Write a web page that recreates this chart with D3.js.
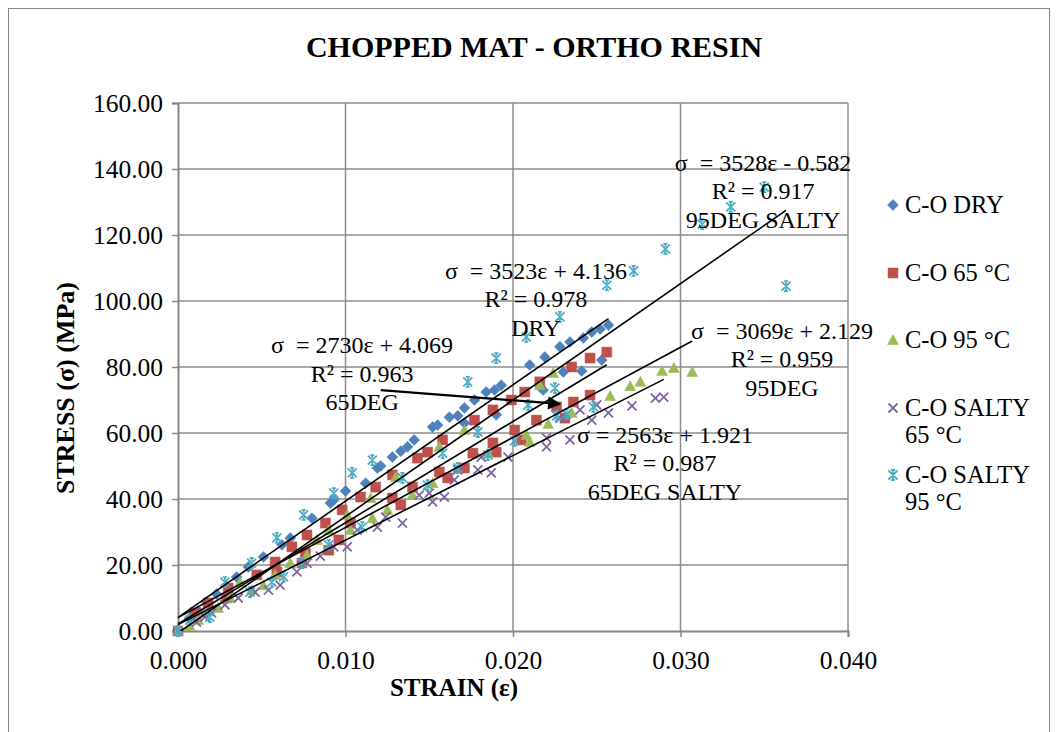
<!DOCTYPE html>
<html>
<head>
<meta charset="utf-8">
<script src="https://cdn.jsdelivr.net/npm/d3@7"></script>
<style>
  body { margin: 0; background: #fff; }
  text { font-family: "Liberation Serif", "Times New Roman", serif; fill: #000; }
</style>
</head>
<body>
<div id="chart"></div>
<script>
// strain / stress readings, one pair of arrays per specimen group
var dryStrain = [0, 0.0007, 0.0012, 0.0017, 0.0023, 0.0029, 0.0035, 0.0042, 0.0051, 0.0062, 0.0067, 0.0080, 0.0091, 0.0093, 0.0100, 0.0112, 0.0119, 0.0121, 0.0128, 0.0133, 0.0137, 0.0141, 0.0152, 0.0155, 0.0162, 0.0167, 0.0171, 0.0177, 0.0184, 0.0189, 0.0193, 0.0210, 0.0219, 0.0228, 0.0234, 0.0242, 0.0247, 0.0252, 0.0257, 0.0171, 0.0190, 0.0218, 0.0230, 0.0241, 0.0253];
var dryStress = [0, 3.9, 6.1, 8.8, 11.2, 13.6, 16.4, 19.4, 22.4, 26.1, 28.2, 34.2, 38.8, 39.7, 42.4, 44.8, 49.4, 50.0, 52.7, 54.5, 55.8, 57.9, 61.8, 62.4, 64.8, 65.2, 67.6, 70.0, 72.4, 73.0, 74.5, 80.6, 83.0, 86.1, 87.6, 88.8, 90.6, 91.5, 92.7, 63.0, 65.5, 73.0, 78.5, 78.8, 82.1];

var c65Strain = [0, 0.0010, 0.0018, 0.0029, 0.0030, 0.0047, 0.0058, 0.0059, 0.0068, 0.0074, 0.0077, 0.0076, 0.0088, 0.0090, 0.0098, 0.0096, 0.0109, 0.0103, 0.0118, 0.0128, 0.0128, 0.0133, 0.0140, 0.0143, 0.0149, 0.0158, 0.0156, 0.0161, 0.0171, 0.0176, 0.0177, 0.0188, 0.0188, 0.0190, 0.0199, 0.0201, 0.0205, 0.0207, 0.0214, 0.0216, 0.0226, 0.0231, 0.0235, 0.0236, 0.0246, 0.0246, 0.0256];
var c65Stress = [0, 5.5, 8.5, 10.0, 13.0, 17.0, 20.9, 17.9, 25.5, 20.6, 29.1, 23.6, 32.7, 24.5, 36.7, 27.6, 40.6, 32.7, 43.6, 47.3, 40.3, 38.2, 43.6, 52.4, 54.2, 57.9, 48.2, 46.4, 49.4, 53.9, 63.9, 67.0, 57.0, 54.2, 70.0, 60.9, 57.9, 72.4, 63.9, 75.5, 67.9, 64.5, 80.0, 69.4, 82.7, 71.5, 84.5];

var c95Strain = [0, 0.0007, 0.0012, 0.0016, 0.0024, 0.0031, 0.0037, 0.0044, 0.0051, 0.0058, 0.0067, 0.0077, 0.0083, 0.0090, 0.0101, 0.0103, 0.0115, 0.0116, 0.0125, 0.0130, 0.0140, 0.0152, 0.0156, 0.0171, 0.0185, 0.0208, 0.0210, 0.0216, 0.0221, 0.0224, 0.0235, 0.0258, 0.0270, 0.0276, 0.0289, 0.0296, 0.0307];
var c95Stress = [0, 1.5, 3.3, 5.5, 7.0, 10.0, 14.8, 12.4, 13.9, 17.0, 20.6, 23.0, 27.6, 30.6, 35.2, 30.6, 40.3, 34.2, 36.7, 46.7, 41.2, 44.8, 55.8, 60.9, 53.9, 59.4, 57.3, 74.5, 62.7, 78.2, 66.1, 71.2, 74.2, 75.5, 78.8, 79.7, 78.5];

var s65Strain = [0, 0.0011, 0.0016, 0.0020, 0.0028, 0.0036, 0.0046, 0.0054, 0.0061, 0.0071, 0.0077, 0.0085, 0.0093, 0.0101, 0.0107, 0.0119, 0.0124, 0.0134, 0.0144, 0.0150, 0.0152, 0.0159, 0.0165, 0.0167, 0.0179, 0.0181, 0.0187, 0.0197, 0.0220, 0.0220, 0.0228, 0.0234, 0.0240, 0.0247, 0.0250, 0.0257, 0.0271, 0.0285, 0.0290];
var s65Stress = [0, 2.7, 4.2, 5.5, 7.9, 10.0, 11.8, 12.4, 13.9, 17.9, 20.6, 22.7, 25.5, 25.5, 30.6, 31.5, 34.5, 32.7, 41.2, 41.8, 39.1, 40.6, 45.8, 48.8, 48.8, 52.7, 47.9, 52.7, 55.8, 58.5, 64.5, 57.9, 67.0, 63.9, 68.5, 66.1, 68.2, 70.6, 70.9];

var s95Strain = [0, 0.0007, 0.0028, 0.0044, 0.0059, 0.0075, 0.0093, 0.0104, 0.0116, 0.0173, 0.0190, 0.0208, 0.0228, 0.0256, 0.0272, 0.0291, 0.0313, 0.0330, 0.0350, 0.0363, 0.0019, 0.0043, 0.0056, 0.0063, 0.0074, 0.0090, 0.0110, 0.0134, 0.0149, 0.0158, 0.0167, 0.0179, 0.0185, 0.0201, 0.0209, 0.0225, 0.0226, 0.0232, 0.0248];
var s95Stress = [0, 3.3, 14.8, 20.6, 28.2, 35.2, 41.8, 47.9, 51.8, 75.5, 82.7, 89.1, 95.2, 104.8, 109.1, 115.8, 123.3, 128.5, 134.5, 104.5, 4.2, 11.8, 14.8, 16.4, 20.6, 26.1, 31.5, 46.4, 44.2, 53.9, 49.4, 60.3, 53.3, 57.6, 68.5, 73.6, 65.2, 65.8, 67.9];

var seriesNames = ["C-O DRY", "C-O 65 °C", "C-O 95 °C", "C-O SALTY 65 °C", "C-O SALTY 95 °C"];
var seriesColors = ["#4F81BD", "#C0504D", "#9BBB59", "#8064A2", "#4BACC6"];
var seriesShapes = ["diamond", "square", "triangle", "cross", "star"];

// linear fits: slope, intercept, last strain of the fit line
var fitSlope = [3523, 3069, 2730, 2563, 3528];
var fitIntercept = [4.136, 2.129, 4.069, 1.921, -0.582];
var fitEnd = [0.0257, 0.0256, 0.0307, 0.0290, 0.0363];

var xTicks = [0, 0.01, 0.02, 0.03, 0.04];
var yTicks = [0, 20, 40, 60, 80, 100, 120, 140, 160];

// equation boxes (anchored in strain/stress units)
var eqLabels = [
  { lines: ["σ  = 3528ε - 0.582", "R² = 0.917", "95DEG SALTY"], x: 0.03493, y: 139.4 },
  { lines: ["σ  = 3523ε + 4.136", "R² = 0.978", "DRY"], x: 0.02137, y: 106.7 },
  { lines: ["σ  = 2730ε + 4.069", "R² = 0.963", "65DEG"], x: 0.01099, y: 84.2 },
  { lines: ["σ  = 3069ε + 2.129", "R² = 0.959", "95DEG"], x: 0.03606, y: 88.5 },
  { lines: ["σ = 2563ε + 1.921", "R² = 0.987", "65DEG SALTY"], x: 0.02907, y: 57.0 }
];
var arrowFrom = [0.0121, 73.0], arrowTo = [0.0228, 68.8];

var W = 1057, H = 732;
var svg = d3.select("#chart").append("svg").attr("width", W).attr("height", H);

svg.append("rect").attr("x", 8.5).attr("y", 8.5).attr("width", 1041).attr("height", 760)
  .attr("fill", "#fff").attr("stroke", "#868686");

var x = d3.scaleLinear().domain([0, 0.04]).range([178, 848]);
var y = d3.scaleLinear().domain([0, 160]).range([631, 103]);

// grid
svg.append("g").selectAll("line").data(xTicks.slice(1)).enter().append("line")
  .attr("x1", function(d) { return x(d); }).attr("x2", function(d) { return x(d); })
  .attr("y1", y(0)).attr("y2", y(160))
  .attr("stroke", "#8c8c8c").attr("stroke-width", 1.5);
svg.append("g").selectAll("line").data(yTicks.slice(1)).enter().append("line")
  .attr("x1", x(0)).attr("x2", x(0.04))
  .attr("y1", function(d) { return y(d); }).attr("y2", function(d) { return y(d); })
  .attr("stroke", "#8c8c8c").attr("stroke-width", 1.5);

// axes
var xAxis = svg.append("g").attr("transform", "translate(0," + y(0) + ")")
  .call(d3.axisBottom(x).tickValues(xTicks).tickFormat(d3.format(".3f")).tickSizeOuter(0).tickSize(6).tickPadding(14));
var yAxis = svg.append("g").attr("transform", "translate(" + x(0) + ",0)")
  .call(d3.axisLeft(y).tickValues(yTicks).tickFormat(d3.format(".2f")).tickSizeOuter(0).tickSize(6).tickPadding(9));
[xAxis, yAxis].forEach(function(a) {
  a.select(".domain").attr("stroke", "#868686").attr("stroke-width", 2);
  a.selectAll(".tick line").attr("stroke", "#868686").attr("stroke-width", 1.5);
  a.selectAll(".tick text").attr("font-size", 25.5)
    .style("font-family", "'Liberation Serif', 'Times New Roman', serif").attr("fill", "#000");
});

// trend lines
var plot = svg.append("g");
svg.append("clipPath").attr("id", "clip").append("rect")
  .attr("x", x(0)).attr("y", y(160)).attr("width", x(0.04) - x(0)).attr("height", y(0) - y(160));
var fitG = svg.append("g").attr("clip-path", "url(#clip)");

// markers
function markerPath(shape) {
  if (shape === "diamond") return "M0,-5.5L5.5,0L0,5.5L-5.5,0Z";
  if (shape === "square") return "M-5,-5H5V5H-5Z";
  if (shape === "triangle") return "M0,-5.5L5.5,4.5H-5.5Z";
  if (shape === "cross") return "M-4.5,-4.5L4.5,4.5M4.5,-4.5L-4.5,4.5";
  return "M-4.5,-4.5L4.5,4.5M4.5,-4.5L-4.5,4.5M0,-5.5V-2M0,2V5.5M-2,-5H2M-2,5H2";
}
function drawMarker(g, shape, color) {
  var filled = shape !== "cross" && shape !== "star";
  g.append("path").attr("d", markerPath(shape))
    .attr("fill", filled ? color : "none")
    .attr("stroke", color).attr("stroke-width", filled ? 0.5 : 1.8);
}

var allStrain = [dryStrain, c65Strain, c95Strain, s65Strain, s95Strain];
var allStress = [dryStress, c65Stress, c95Stress, s65Stress, s95Stress];
allStrain.forEach(function(xs, i) {
  var pts = xs.map(function(v, j) { return [v, allStress[i][j]]; });
  plot.append("g").selectAll("g").data(pts).enter().append("g")
    .attr("transform", function(d) { return "translate(" + x(d[0]) + "," + y(d[1]) + ")"; })
    .each(function() { drawMarker(d3.select(this), seriesShapes[i], seriesColors[i]); });
});

fitSlope.forEach(function(m, i) {
  var b = fitIntercept[i];
  fitG.append("line")
    .attr("x1", x(0)).attr("y1", y(b))
    .attr("x2", x(fitEnd[i])).attr("y2", y(m * fitEnd[i] + b))
    .attr("stroke", "#000").attr("stroke-width", 1.6);
});

// equation labels
eqLabels.forEach(function(l) {
  var t = svg.append("text").attr("text-anchor", "middle").attr("font-size", 24)
    .style("white-space", "pre");
  l.lines.forEach(function(s, k) {
    t.append("tspan").attr("x", x(l.x)).attr("y", y(l.y) + k * 28.5).text(s);
  });
});

// arrow
svg.append("defs").append("marker").attr("id", "arrow")
  .attr("viewBox", "0 0 10 10").attr("refX", 9).attr("refY", 5)
  .attr("markerWidth", 7).attr("markerHeight", 6).attr("orient", "auto")
  .attr("markerUnits", "strokeWidth")
  .append("path").attr("d", "M0,0L10,5L0,10Z").attr("fill", "#000");
svg.append("line")
  .attr("x1", x(arrowFrom[0])).attr("y1", y(arrowFrom[1]))
  .attr("x2", x(arrowTo[0])).attr("y2", y(arrowTo[1]))
  .attr("stroke", "#000").attr("stroke-width", 2.2).attr("marker-end", "url(#arrow)");

// title and axis titles
svg.append("text").attr("x", 534).attr("y", 57).attr("text-anchor", "middle")
  .attr("font-size", 30).attr("font-weight", "bold").text("CHOPPED MAT - ORTHO RESIN");
svg.append("text").attr("x", 454).attr("y", 696).attr("text-anchor", "middle")
  .attr("font-size", 25).attr("font-weight", "bold").text("STRAIN (ε)");
svg.append("text").attr("transform", "translate(74," + 388 + ") rotate(-90)")
  .attr("text-anchor", "middle").attr("font-size", 26).attr("font-weight", "bold")
  .text("STRESS (σ) (MPa)");

// legend
var legendRows = [[205], [273], [340], [408, 435], [475, 502]];
seriesNames.forEach(function(name, i) {
  var rows = legendRows[i];
  var g = svg.append("g").attr("transform", "translate(893," + rows[0] + ")");
  drawMarker(g, seriesShapes[i], seriesColors[i]);
  var parts = rows.length > 1 ? [name.slice(0, 9), name.slice(10)] : [name];
  parts.forEach(function(p, k) {
    svg.append("text").attr("x", 905).attr("y", rows[k] + 8).attr("font-size", 24.5).text(p);
  });
});
</script>
</body>
</html>
